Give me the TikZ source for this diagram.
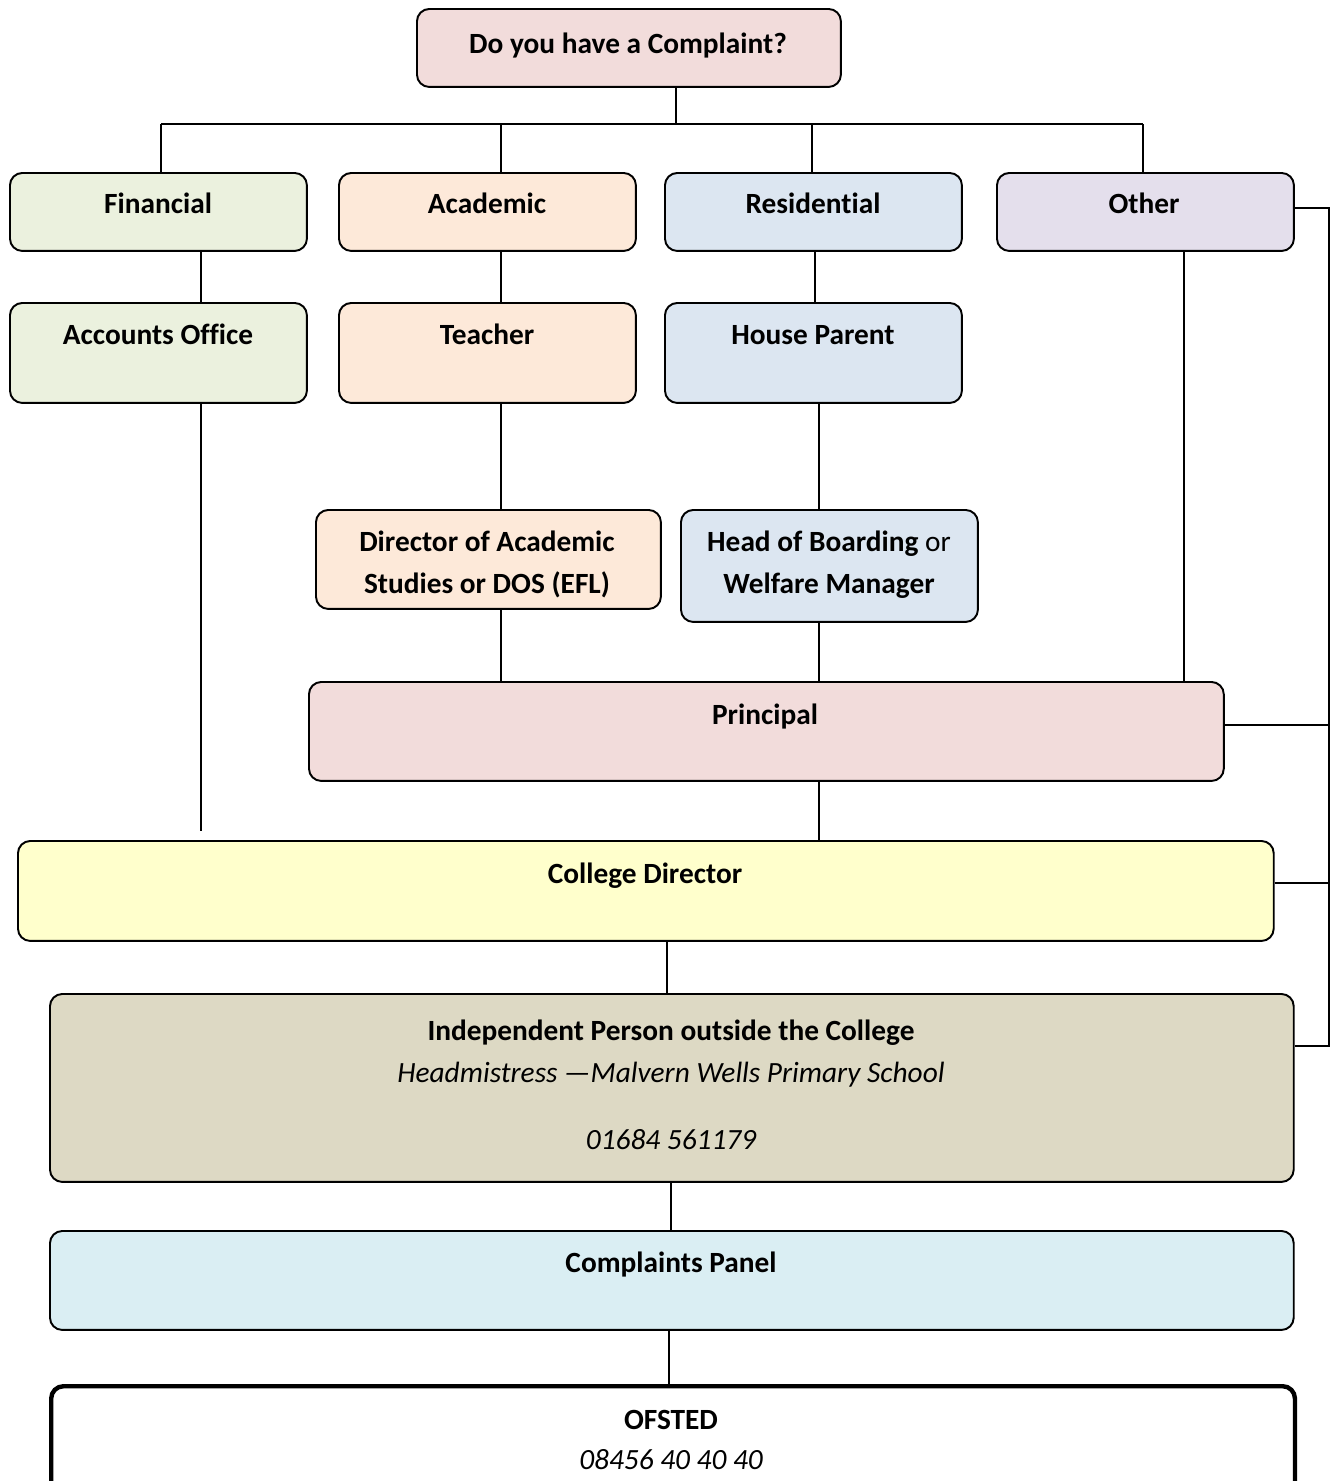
\documentclass[tikz,border=0pt]{standalone}
\usepackage{fontspec}
\setmainfont{Carlito}[Ligatures={NoCommon}]
\usetikzlibrary{positioning}

\definecolor{askC}{HTML}{F2DCDB}
\definecolor{finC}{HTML}{EBF1DE}
\definecolor{acaC}{HTML}{FDE9D9}
\definecolor{resC}{HTML}{DCE6F1}
\definecolor{othC}{HTML}{E4DFEC}
\definecolor{dirC}{HTML}{FFFFCC}
\definecolor{indC}{HTML}{DDD9C4}
\definecolor{panC}{HTML}{DAEEF3}

\begin{document}
\begin{tikzpicture}[x=0.02cm,y=-0.02cm,
  box/.style={draw=black,line width=1.1pt,rounded corners=7pt,anchor=north west,inner sep=0pt},
  lbl/.style={anchor=base,font=\fontsize{16.7}{24}\selectfont\bfseries,inner sep=0pt},
  ilbl/.style={anchor=base,font=\fontsize{16.7}{24}\selectfont\itshape,inner sep=0pt},
  link/.style={draw=black,line width=0.9pt}]
\useasboundingbox (0,0) rectangle (1336,1481);
\clip (0,0) rectangle (1336,1481);
% boxes
\node[box,fill=askC,minimum width=8.48cm,minimum height=1.56cm] (ask) at (416,8) {};
\node[box,fill=finC,minimum width=5.94cm,minimum height=1.56cm] (fin) at (9,172) {};
\node[box,fill=acaC,minimum width=5.94cm,minimum height=1.56cm] (aca) at (338,172) {};
\node[box,fill=resC,minimum width=5.94cm,minimum height=1.56cm] (res) at (664,172) {};
\node[box,fill=othC,minimum width=5.94cm,minimum height=1.56cm] (oth) at (996,172) {};
\node[box,fill=finC,minimum width=5.94cm,minimum height=2cm] (acc) at (9,302) {};
\node[box,fill=acaC,minimum width=5.94cm,minimum height=2cm] (tea) at (338,302) {};
\node[box,fill=resC,minimum width=5.94cm,minimum height=2cm] (hou) at (664,302) {};
\node[box,fill=acaC,minimum width=6.9cm,minimum height=1.98cm] (dos) at (315,509) {};
\node[box,fill=resC,minimum width=5.94cm,minimum height=2.24cm] (hob) at (680,509) {};
\node[box,fill=askC,minimum width=18.3cm,minimum height=1.98cm] (pri) at (308,681) {};
\node[box,fill=dirC,minimum width=25.12cm,minimum height=2cm] (dir) at (17,840) {};
\node[box,fill=indC,minimum width=24.88cm,minimum height=3.76cm] (ind) at (49,993) {};
\node[box,fill=panC,minimum width=24.88cm,minimum height=1.98cm] (pan) at (49,1230) {};
\node[box,line width=2.5pt,fill=white,minimum width=24.88cm,minimum height=2.6cm] (ofs) at (49,1384) {};
% texts
\node[lbl] (ask-t) at (628,53) {Do you have a Complaint?};
\node[lbl] (fin-t) at (158,213) {Financial};
\node[lbl] (aca-t) at (487,213) {Academic};
\node[lbl] (res-t) at (813,213) {Residential};
\node[lbl] (oth-t) at (1144,213) {Other};
\node[lbl] (acc-t) at (158,344) {Accounts Office};
\node[lbl] (tea-t) at (487,344) {Teacher};
\node[lbl] (hou-t) at (813,344) {House Parent};
\node[lbl] (dos-t1) at (487,551) {Director of Academic};
\node[lbl] (dos-t2) at (487,593) {Studies or DOS (EFL)};
\node[lbl] (hob-t1) at (829,551) {Head of Boarding{\mdseries\ or}};
\node[lbl] (hob-t2) at (829,593) {Welfare Manager};
\node[lbl] (pri-t) at (765,724) {Principal};
\node[lbl] (dir-t) at (645,883) {College Director};
\node[lbl] (ind-t1) at (671,1040) {Independent Person outside the College};
\node[ilbl] (ind-t2) at (671,1082) {Headmistress —Malvern Wells Primary School};
\node[ilbl] (ind-t3) at (671,1149) {01684 561179};
\node[lbl] (pan-t) at (671,1272) {Complaints Panel};
\node[lbl] (ofs-t1) at (671,1429) {OFSTED};
\node[ilbl] (ofs-t2) at (671,1469) {08456 40 40 40};
% connectors
\coordinate (busL) at (161,124);
\coordinate (busR) at (1143,124);
\coordinate (rbus) at (1329,208);
\draw[link] (ask.south -| 676,0) |- (busL) -- (busR);
\draw[link] (busL) -- (fin.north -| busL);
\draw[link] (busL -| 501,0) -- (aca.north -| 501,0);
\draw[link] (busL -| 812,0) -- (res.north -| 812,0);
\draw[link] (busR) -- (oth.north -| busR);
\draw[link] (fin.south -| 201,0) -- (acc.north -| 201,0);
\draw[link] (aca.south -| 501,0) -- (tea.north -| 501,0);
\draw[link] (res.south -| 815,0) -- (hou.north -| 815,0);
\draw[link,shorten >=5pt] (acc.south -| 201,0) -- (dir.north -| 201,0);
\draw[link] (tea.south -| 501,0) -- (dos.north -| 501,0);
\draw[link] (hou.south -| 819,0) -- (hob.north -| 819,0);
\draw[link] (dos.south -| 501,0) -- (pri.north -| 501,0);
\draw[link] (hob.south -| 819,0) -- (pri.north -| 819,0);
\draw[link] (oth.south -| 1184,0) -- (pri.north -| 1184,0);
\draw[link] (pri.south -| 819,0) -- (dir.north -| 819,0);
\draw[link] (dir.south -| 667,0) -- (ind.north -| 667,0);
\draw[link] (ind.south -| 671,0) -- (pan.north -| 671,0);
\draw[link] (pan.south -| 669,0) -- (ofs.north -| 669,0);
\draw[link] (oth.east |- rbus) -- (rbus) -- (rbus |- 0,1046) -- (ind.east |- 0,1046);
\draw[link] (pri.east |- 0,725) -- (rbus |- 0,725);
\draw[link] (dir.east |- 0,883) -- (rbus |- 0,883);
\end{tikzpicture}
\end{document}
